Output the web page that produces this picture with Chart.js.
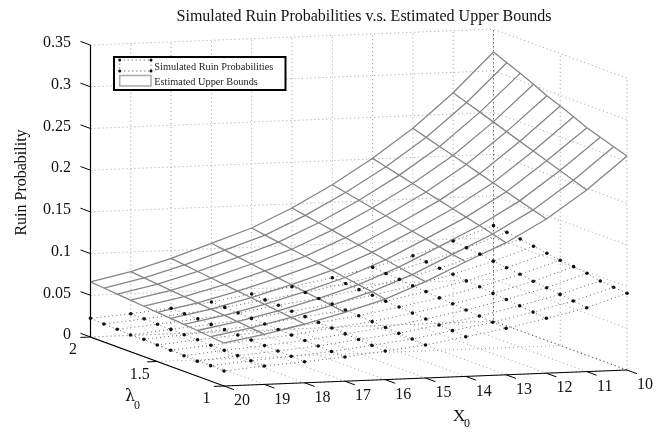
<!DOCTYPE html>
<html><head><meta charset="utf-8">
<style>html,body{margin:0;padding:0;background:#fff}canvas{display:block}</style>
<script src="https://cdn.jsdelivr.net/npm/chart.js@4"></script>
</head><body><canvas id="c" width="666" height="432"></canvas>
<script>
const x0Ticks = [20,19,18,17,16,15,14,13,12,11,10];
const lambdaValues = [2.0,1.9,1.8,1.7,1.6,1.5,1.4,1.3,1.2,1.1,1.0];
const x0Values = [10,11,12,13,14,15,16,17,18,19,20];
const lambdaTicks = [2,1.5,1];
const zTicks = [0,0.05,0.1,0.15,0.2,0.25,0.3,0.35];
const zTickLabels = ['0','0.05','0.1','0.15','0.2','0.25','0.3','0.35'];
const lambdaTickLabels = ['2','1.5','1'];
const titleText = 'Simulated Ruin Probabilities v.s. Estimated Upper Bounds';
const zLabel = 'Ruin Probability';
const simulatedLabel = 'Simulated Ruin Probabilities';
const upperLabel = 'Estimated Upper Bounds';
// rows: lambda 2.0 .. 1.0, columns: X0 10 .. 20
const upperBounds = [
[.3225,.2757,.2349,.2008,.1710,.1451,.1230,.1066,.0905,.0764,.0660],
[.3156,.2699,.2299,.1966,.1676,.1421,.1204,.1042,.0885,.0748,.0646],
[.3087,.2641,.2249,.1924,.1642,.1391,.1178,.1018,.0865,.0732,.0632],
[.3014,.2583,.2199,.1882,.1608,.1361,.1152,.0994,.0845,.0716,.0618],
[.2937,.2525,.2149,.1840,.1574,.1331,.1126,.0970,.0825,.0700,.0604],
[.2872,.2467,.2099,.1798,.1540,.1301,.1100,.0946,.0805,.0684,.0590],
[.2802,.2409,.2049,.1756,.1506,.1271,.1074,.0922,.0785,.0668,.0576],
[.2729,.2351,.1999,.1714,.1472,.1241,.1048,.0898,.0765,.0652,.0562],
[.2673,.2293,.1949,.1672,.1438,.1211,.1022,.0874,.0745,.0636,.0548],
[.2619,.2235,.1899,.1630,.1404,.1181,.0996,.0850,.0725,.0618,.0532],
[.2566,.2178,.1849,.1584,.1375,.1155,.0966,.0825,.0705,.0600,.0516]];
const simulated = [
[.1143,.0978,.0821,.0701,.0596,.0507,.0439,.0362,.0306,.0260,.0224],
[.1122,.0955,.0806,.0685,.0585,.0497,.0427,.0356,.0300,.0257,.0215],
[.1101,.0938,.0788,.0674,.0570,.0484,.0422,.0347,.0297,.0251,.0210],
[.1072,.0913,.0775,.0656,.0562,.0475,.0409,.0342,.0289,.0249,.0200],
[.1047,.0892,.0754,.0645,.0548,.0462,.0402,.0333,.0285,.0243,.0207],
[.1022,.0873,.0742,.0628,.0538,.0452,.0390,.0327,.0279,.0241,.0198],
[.1004,.0849,.0722,.0616,.0524,.0441,.0384,.0318,.0277,.0235,.0193],
[.0983,.0830,.0708,.0600,.0512,.0430,.0372,.0311,.0270,.0232,.0187],
[.0950,.0808,.0691,.0587,.0499,.0418,.0364,.0304,.0264,.0228,.0179],
[.0933,.0788,.0674,.0571,.0490,.0408,.0352,.0297,.0259,.0225,.0185],
[.0920,.0766,.0658,.0557,.0476,.0396,.0343,.0290,.0253,.0221,.0180]];

// Orthographic view of the 3D box onto the flat scatter scales
function project(X, lam, z){
  return {x: 224 + (20-X)*40.3 - (lam-1)*133.5,
          y: 386 - (20-X)*1.6 - (lam-1)*49 - z*834};
}
const ds = [];
function line(pts, color, width, dash){
  ds.push({type:'scatter',showLine:true,data:pts,borderColor:color,borderWidth:width,borderDash:dash||[],
    pointRadius:0,fill:false,tension:0,clip:false,order:-ds.length});
}
const GRID='#a0a0a0', D=[1,3];
// back walls: horizontal z lines
zTicks.forEach(z=>{
  line([project(20,2,z),project(10,2,z),project(10,1,z)],GRID,1,D);
});
// verticals on walls and floor lines
x0Values.forEach(X=>{
  line([project(X,1,0),project(X,2,0),project(X,2,.35)], X===10?'#444':GRID,1,D);
});
lambdaTicks.forEach(l=>{
  line([project(20,l,0),project(10,l,0),project(10,l,.35)],GRID,1,D);
});
// simulated surface: dotted mesh and dots
simulated.forEach((row,i)=>{
  line(row.map((z,j)=>project(x0Values[j],lambdaValues[i],z)),'#666',1,D);
});
x0Values.forEach((X,j)=>{
  line(simulated.map((row,i)=>project(X,lambdaValues[i],row[j])),'#666',1,D);
});
const dots=[];
simulated.forEach((row,i)=>row.forEach((z,j)=>dots.push(project(x0Values[j],lambdaValues[i],z))));
ds.push({type:'scatter',label:simulatedLabel,data:dots,pointRadius:1.8,pointBorderWidth:0,pointBackgroundColor:'#111',showLine:false,clip:false,order:-500});
// upper-bound surface mesh
upperBounds.forEach((row,i)=>{
  line(row.map((z,j)=>project(x0Values[j],lambdaValues[i],z)),'#858585',1.3);
});
x0Values.forEach((X,j)=>{
  line(upperBounds.map((row,i)=>project(X,lambdaValues[i],row[j])),'#858585',1.3);
});
// axes
line([project(20,2,.35),project(20,2,0),project(20,1,0),project(10,1,0)],'#000',1.2);
zTicks.forEach(z=>line([project(20,2,z),project(20,2.075,z)],'#000',1));
x0Ticks.forEach(X=>line([project(X,1,0),project(X,0.925,0)],'#000',1));
lambdaTicks.forEach(l=>line([project(20,l,0),project(20.25,l,0)],'#000',1));

const FONT='"Liberation Serif","Times New Roman",serif';
const textPlugin={id:'sceneText',afterDatasetsDraw(chart){
  const c=chart.ctx, sx=chart.scales.x, sy=chart.scales.y;
  const P=p=>({x:sx.getPixelForValue(p.x),y:sy.getPixelForValue(p.y)});
  c.save();
  c.fillStyle='#111';
  c.textBaseline='middle';
  c.font='16px '+FONT; c.textAlign='center';
  c.fillText(titleText,364,17);
  zTicks.forEach((z,i)=>{const p=P(project(20,2,z));c.textAlign='right';c.fillText(zTickLabels[i],p.x-19.5,p.y-2);});
  c.textAlign='center';
  x0Ticks.forEach(X=>{const p=P(project(X,1,0));c.fillText(String(X),p.x+18,p.y+15);});
  lambdaTicks.forEach((l,i)=>{const p=P(project(20,l,0));c.fillText(lambdaTickLabels[i],p.x-17.5,p.y+13);});
  c.save();c.translate(22,182.5);c.rotate(-Math.PI/2);c.fillText(zLabel,0,0);c.restore();
  // axis names with subscripts
  c.textAlign='left';
  c.font='17px '+FONT;c.fillText('X',453,417);
  c.font='12px '+FONT;c.fillText('0',464,424);
  c.font='16px "DejaVu Serif",'+FONT;c.fillText('λ',125,397);
  c.font='12px '+FONT;c.fillText('0',134,406);
  // legend box
  c.fillStyle='#fff';c.strokeStyle='#000';c.lineWidth=2;
  c.fillRect(114,57,171.5,33);c.strokeRect(114,57,171.5,33);
  c.strokeStyle='#444';c.lineWidth=1;c.setLineDash([1,3]);
  c.strokeRect(119.7,60,31.3,11);c.setLineDash([]);
  c.fillStyle='#111';
  [[119.7,60],[151,60],[119.7,71],[151,71]].forEach(q=>{c.beginPath();c.arc(q[0],q[1],1.5,0,7);c.fill();});
  c.strokeStyle='#aaa';c.lineWidth=1.5;c.strokeRect(119.7,75.5,31.3,10.5);
  c.fillStyle='#222';c.font='10.3px '+FONT;
  c.fillText(simulatedLabel,154.3,67);
  c.fillText(upperLabel,154.3,82);
  c.restore();
}};
new Chart(document.getElementById('c'),{
  type:'scatter',
  data:{datasets:ds},
  options:{responsive:false,animation:false,
    layout:{padding:0,autoPadding:false},
    plugins:{legend:{display:false},tooltip:{enabled:false},title:{display:false}},
    scales:{
      x:{type:'linear',min:0,max:666,display:false},
      y:{type:'linear',min:0,max:432,reverse:true,display:false}
    }},
  plugins:[textPlugin]
});
</script></body></html>
